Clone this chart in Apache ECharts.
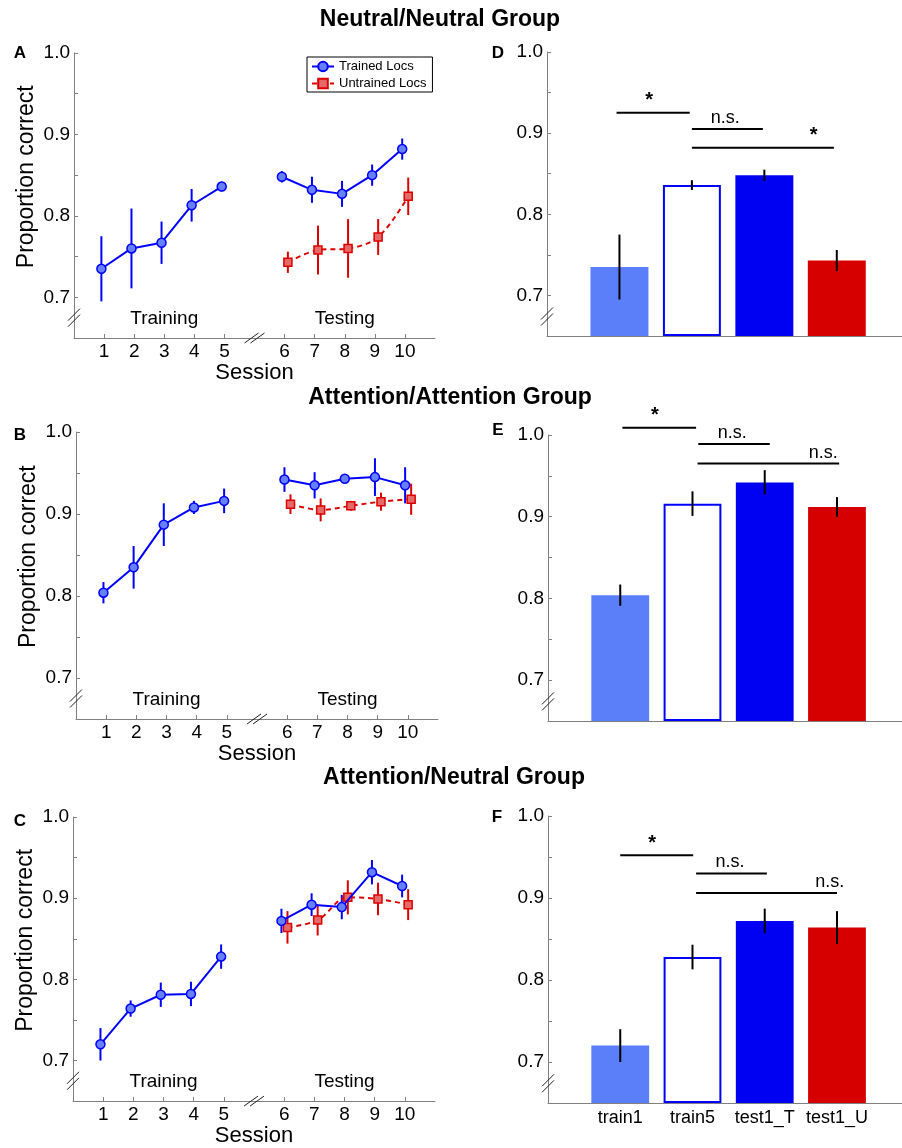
<!DOCTYPE html>
<html>
<head>
<meta charset="utf-8">
<title>Proportion correct by session</title>
<script src="https://cdn.jsdelivr.net/npm/echarts@6/dist/echarts.min.js"></script>
<style>
  html, body { margin: 0; padding: 0; background: #fff; }
  #chart { width: 902px; height: 1148px; }
</style>
</head>
<body>
<div id="chart"></div>
<script>
// sessions 1-5 are training, 6-10 testing
const sessions = [1, 2, 3, 4, 5, 6, 7, 8, 9, 10]
const testSessions = [6, 7, 8, 9, 10]
const barLabels = ['train1', 'train5', 'test1_T', 'test1_U']
const yTicks = [0.7, 0.75, 0.8, 0.85, 0.9, 0.95, 1.0]
const yLabels = [0.7, 0.8, 0.9, 1.0]

// Neutral/Neutral group (A, D)
const nnTrained = [0.735, 0.760, 0.767, 0.813, 0.836, 0.848, 0.832, 0.827, 0.850, 0.882]
const nnTrainedErr = [0.040, 0.049, 0.026, 0.020, 0.006, 0.007, 0.016, 0.016, 0.013, 0.013]
const nnUntrained = [0.743, 0.758, 0.760, 0.774, 0.824]
const nnUntrainedErr = [0.013, 0.030, 0.036, 0.022, 0.023]

// Attention/Attention group (B, E)
const aaTrained = [0.804, 0.835, 0.887, 0.908, 0.916, 0.942, 0.935, 0.943, 0.945, 0.935]
const aaTrainedErr = [0.013, 0.026, 0.026, 0.008, 0.015, 0.015, 0.016, 0.005, 0.023, 0.022]
const aaUntrained = [0.912, 0.905, 0.910, 0.915, 0.918]
const aaUntrainedErr = [0.012, 0.014, 0.006, 0.011, 0.019]

// Attention/Neutral group (C, F)
const anTrained = [0.720, 0.764, 0.781, 0.782, 0.828, 0.872, 0.892, 0.889, 0.932, 0.915]
const anTrainedErr = [0.020, 0.010, 0.015, 0.015, 0.015, 0.015, 0.014, 0.015, 0.015, 0.014]
const anUntrained = [0.864, 0.873, 0.901, 0.899, 0.892]
const anUntrainedErr = [0.020, 0.019, 0.021, 0.020, 0.019]

// significance brackets: [from, to, height], with label and label x
const nnSig = [[0.96, 1.97, 0.925], [2.0, 2.98, 0.905], [2.0, 3.96, 0.882]]
const nnSigText = ['*', 'n.s.', '*']
const nnSigX = [1.41, 2.46, 3.68]
const aaSig = [[1.03, 2.05, 1.009], [2.08, 3.07, 0.989], [2.07, 4.03, 0.965]]
const aaSigText = ['*', 'n.s.', 'n.s.']
const aaSigX = [1.48, 2.55, 3.81]
const anSig = [[1.0, 2.01, 0.952], [2.05, 3.03, 0.930], [2.05, 4.0, 0.906]]
const anSigText = ['*', 'n.s.', 'n.s.']
const anSigX = [1.44, 2.52, 3.9]

const FONT = '"Liberation Sans", Arial, Helvetica, sans-serif'
const BLUE = '#0000ff'
const RED = '#dd0000'
const AXIS = '#808080'
const yMin = 0.65
const yMax = 1.0
const barW = 0.8
const barAxisMax = 4.9
const offTrained = -0.09
const offUntrained = 0.11

// training sessions sit at 1-5, testing shifted one slot right past the axis break
const sessionPos = s => (s <= 5 ? s : s + 1)
const posToSession = {}
sessions.forEach(s => { posToSession[sessionPos(s)] = s })

const groups = [
  {
    title: 'Neutral/Neutral Group', letters: ['A', 'D'],
    trained: nnTrained, trainedErr: nnTrainedErr, untrained: nnUntrained, untrainedErr: nnUntrainedErr,
    sig: nnSig, sigText: nnSigText, sigX: nnSigX
  },
  {
    title: 'Attention/Attention Group', letters: ['B', 'E'],
    trained: aaTrained, trainedErr: aaTrainedErr, untrained: aaUntrained, untrainedErr: aaUntrainedErr,
    sig: aaSig, sigText: aaSigText, sigX: aaSigX
  },
  {
    title: 'Attention/Neutral Group', letters: ['C', 'F'],
    trained: anTrained, trainedErr: anTrainedErr, untrained: anUntrained, untrainedErr: anUntrainedErr,
    sig: anSig, sigText: anSigText, sigX: anSigX
  }
]

const layout = [
  { line: { left: 74, top: 53, width: 361, height: 285 }, bar: { left: 547, top: 52, right: 0, height: 284 },
    nameGap: 20, title: [440, 20], letters: [[20, 53], [498, 53]] },
  { line: { left: 76, top: 432, width: 362, height: 287 }, bar: { left: 548, top: 435, right: 0, height: 286 },
    nameGap: 20, title: [450, 398], letters: [[20, 435], [498, 430]] },
  { line: { left: 73, top: 817, width: 362, height: 285 }, bar: { left: 548, top: 816, right: 0, height: 287 },
    nameGap: 22, title: [454, 778], letters: [[20, 821], [497, 817]] }
]

function yAxisFor(gridIndex) {
  return {
    type: 'value', gridIndex: gridIndex, min: yMin, max: yMax,
    splitLine: { show: false },
    axisLine: { show: true, onZero: false, lineStyle: { color: AXIS, width: 1 } },
    axisTick: { show: true, inside: true, length: 4, customValues: yTicks, lineStyle: { color: AXIS } },
    axisLabel: {
      customValues: yLabels, margin: 4, color: '#000', fontFamily: FONT, fontSize: 19,
      formatter: v => v.toFixed(1)
    }
  }
}

function errorBarItem(color) {
  return function(params, api) {
    const x = api.value(0)
    const v = api.value(1)
    const e = api.value(2)
    const top = api.coord([x, v + e])
    const bot = api.coord([x, v - e])
    return {
      type: 'line',
      shape: { x1: top[0], y1: top[1], x2: bot[0], y2: bot[1] },
      style: { stroke: color, lineWidth: 2 }
    }
  }
}

function barItem(styles) {
  return function(params, api) {
    const x = api.value(0)
    const v = api.value(1)
    const p0 = api.coord([x - barW / 2, v])
    const p1 = api.coord([x + barW / 2, yMin])
    const st = styles[params.dataIndex]
    const inset = st.lineWidth ? st.lineWidth / 2 : 0
    return {
      type: 'rect',
      shape: { x: p0[0] + inset, y: p0[1] + inset, width: p1[0] - p0[0] - 2 * inset, height: p1[1] - p0[1] - 2 * inset },
      style: st
    }
  }
}

function sigItem(texts, textX) {
  return function(params, api) {
    const y = api.value(2)
    const a = api.coord([api.value(0), y])
    const b = api.coord([api.value(1), y])
    const t = api.coord([textX[params.dataIndex], y])
    const label = texts[params.dataIndex]
    return {
      type: 'group',
      children: [
        { type: 'line', shape: { x1: a[0], y1: a[1], x2: b[0], y2: b[1] }, style: { stroke: '#000', lineWidth: 2 } },
        {
          type: 'text', x: t[0], y: t[1] - 2,
          style: {
            text: label, fill: '#000', align: 'center', verticalAlign: 'bottom',
            font: label === '*' ? 'bold 20px ' + FONT : '18px ' + FONT
          }
        }
      ]
    }
  }
}

// texts, axis title and axis-break marks placed in data coordinates
function decorItem(items) {
  return function(params, api) {
    const d = items[params.dataIndex]
    const p = api.coord(d.at)
    if (d.kind === 'text') {
      return { type: 'text', x: p[0], y: p[1], style: { text: d.text, font: '19px ' + FONT, fill: '#000', align: 'center', verticalAlign: 'middle' } }
    }
    if (d.kind === 'yname') {
      return { type: 'text', x: p[0] - 47, y: p[1], rotation: Math.PI / 2,
        style: { text: d.text, font: '23px ' + FONT, fill: '#000', align: 'center', verticalAlign: 'middle' } }
    }
    if (d.kind === 'ybreak') {
      return { type: 'group', children: [-3, 3].map(o => ({
        type: 'line', shape: { x1: p[0] - 6, y1: p[1] + o + 6, x2: p[0] + 6, y2: p[1] + o - 6 },
        style: { stroke: '#222', lineWidth: 1 }
      })) }
    }
    return { type: 'group', children: [-3, 3].map(o => ({
      type: 'line', shape: { x1: p[0] + o - 7, y1: p[1] + 5, x2: p[0] + o + 7, y2: p[1] - 5 },
      style: { stroke: '#222', lineWidth: 1 }
    })) }
  }
}

const grid = []
const xAxis = []
const yAxis = []
const series = []
const graphic = []

groups.forEach((g, i) => {
  const L = layout[i]
  const li = grid.length
  grid.push(L.line)
  const bi = grid.length
  grid.push(L.bar)

  // line panel axes
  const tickPos = sessions.map(sessionPos)
  xAxis.push({
    type: 'value', gridIndex: li, min: 0, max: 12,
    name: 'Session', nameLocation: 'middle', nameGap: L.nameGap,
    nameTextStyle: { fontFamily: FONT, fontSize: 22, color: '#000' },
    splitLine: { show: false },
    axisLine: { show: true, onZero: false, lineStyle: { color: AXIS } },
    axisTick: { show: true, inside: true, length: 4, customValues: tickPos, lineStyle: { color: AXIS } },
    axisLabel: { customValues: tickPos, margin: 4, color: '#000', fontFamily: FONT, fontSize: 19,
      formatter: v => String(posToSession[Math.round(v)]) }
  })
  yAxis.push(yAxisFor(li))

  // bar panel axes
  xAxis.push({
    type: 'value', gridIndex: bi, min: 0, max: barAxisMax,
    splitLine: { show: false },
    axisLine: { show: true, onZero: false, lineStyle: { color: AXIS } },
    axisTick: { show: false },
    axisLabel: {
      show: i === 2, customValues: [1, 2, 3, 4], margin: 6, color: '#000', fontFamily: FONT, fontSize: 18,
      formatter: v => barLabels[Math.round(v) - 1]
    }
  })
  yAxis.push(yAxisFor(bi))

  const trainPts = sessions.slice(0, 5).map((s, k) => [sessionPos(s) + offTrained, g.trained[k]])
  const testPts = testSessions.map((s, k) => [sessionPos(s) + offTrained, g.trained[k + 5]])
  const untrainedPts = testSessions.map((s, k) => [sessionPos(s) + offUntrained, g.untrained[k]])

  series.push({
    type: 'custom', xAxisIndex: li, yAxisIndex: li, z: 1, silent: true,
    renderItem: errorBarItem(BLUE),
    data: sessions.map((s, k) => [sessionPos(s) + offTrained, g.trained[k], g.trainedErr[k]])
  })
  series.push({
    type: 'custom', xAxisIndex: li, yAxisIndex: li, z: 1, silent: true,
    renderItem: errorBarItem(RED),
    data: testSessions.map((s, k) => [sessionPos(s) + offUntrained, g.untrained[k], g.untrainedErr[k]])
  })

  const trainedStyle = {
    name: 'Trained Locs', type: 'line', xAxisIndex: li, yAxisIndex: li, z: 3, silent: true,
    symbol: 'circle', symbolSize: 9,
    lineStyle: { color: BLUE, width: 2 },
    itemStyle: { color: '#6680ff', borderColor: BLUE, borderWidth: 1.5 },
    emphasis: { disabled: true }
  }
  series.push(Object.assign({}, trainedStyle, { data: trainPts }))
  series.push(Object.assign({}, trainedStyle, { data: testPts }))
  series.push({
    name: 'Untrained Locs', type: 'line', xAxisIndex: li, yAxisIndex: li, z: 2, silent: true,
    symbol: 'rect', symbolSize: 8, smooth: 0.35,
    lineStyle: { color: RED, width: 2, type: [5, 4] },
    itemStyle: { color: '#e46a6a', borderColor: RED, borderWidth: 1.5 },
    emphasis: { disabled: true },
    data: untrainedPts
  })

  const lineDecor = [
    { kind: 'text', at: [3, 0.674], text: 'Training' },
    { kind: 'text', at: [9, 0.674], text: 'Testing' },
    { kind: 'yname', at: [0, 0.848], text: 'Proportion correct' },
    { kind: 'ybreak', at: [0, 0.675] },
    { kind: 'xbreak', at: [6, yMin] }
  ]
  series.push({
    type: 'custom', xAxisIndex: li, yAxisIndex: li, z: 4, silent: true, clip: false,
    renderItem: decorItem(lineDecor), data: lineDecor.map(d => d.at)
  })

  // bar panel: train1, train5, first test trained, first test untrained
  const barVals = [g.trained[0], g.trained[4], g.trained[5], g.untrained[0]]
  const barErrs = [g.trainedErr[0], g.trainedErr[4], g.trainedErr[5], g.untrainedErr[0]]
  const barStyles = [
    { fill: '#5b7ff9' },
    { fill: '#fff', stroke: BLUE, lineWidth: 2 },
    { fill: '#0000f2' },
    { fill: '#d70000' }
  ]
  series.push({
    type: 'custom', xAxisIndex: bi, yAxisIndex: bi, z: 1, silent: true,
    renderItem: barItem(barStyles), data: barVals.map((v, k) => [k + 1, v])
  })
  series.push({
    type: 'custom', xAxisIndex: bi, yAxisIndex: bi, z: 2, silent: true,
    renderItem: errorBarItem('#000'), data: barVals.map((v, k) => [k + 1, v, barErrs[k]])
  })
  series.push({
    type: 'custom', xAxisIndex: bi, yAxisIndex: bi, z: 3, silent: true, clip: false,
    renderItem: sigItem(g.sigText, g.sigX), data: g.sig
  })
  const barDecor = [{ kind: 'ybreak', at: [0, 0.674] }]
  series.push({
    type: 'custom', xAxisIndex: bi, yAxisIndex: bi, z: 4, silent: true, clip: false,
    renderItem: decorItem(barDecor), data: barDecor.map(d => d.at)
  })

  graphic.push({
    type: 'text', x: L.title[0], y: L.title[1],
    style: { text: g.title, font: 'bold 23px ' + FONT, fill: '#000', align: 'center', verticalAlign: 'middle' }
  })
  g.letters.forEach((letter, k) => {
    graphic.push({
      type: 'text', x: L.letters[k][0], y: L.letters[k][1],
      style: { text: letter, font: 'bold 17px ' + FONT, fill: '#000', align: 'center', verticalAlign: 'middle' }
    })
  })
})

const chart = echarts.init(document.getElementById('chart'), null, { renderer: 'canvas' })
chart.setOption({
  animation: false,
  backgroundColor: '#fff',
  grid: grid,
  xAxis: xAxis,
  yAxis: yAxis,
  legend: {
    data: ['Trained Locs', 'Untrained Locs'],
    orient: 'vertical', left: 307, top: 57,
    padding: [3, 6, 2, 4], itemGap: 4, itemWidth: 22, itemHeight: 12,
    borderColor: '#000', borderWidth: 1, backgroundColor: '#fff',
    selectedMode: false,
    textStyle: { fontFamily: FONT, fontSize: 13, color: '#000' }
  },
  graphic: graphic,
  series: series
})
</script>
</body>
</html>
